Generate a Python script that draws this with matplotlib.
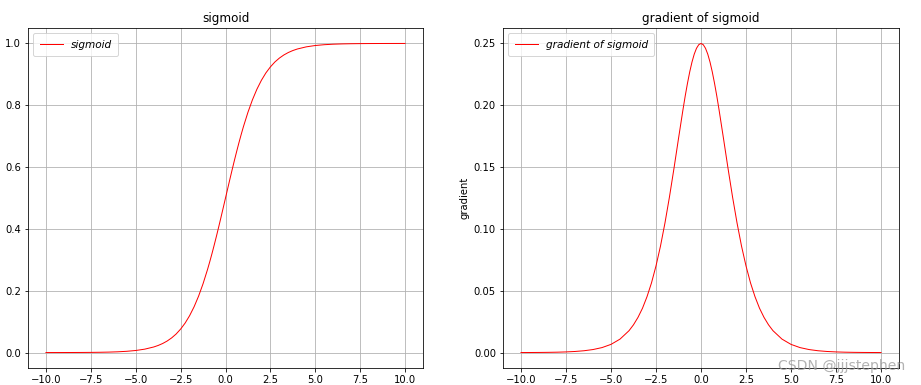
import matplotlib
matplotlib.use("Agg")
import matplotlib.pyplot as plt

# x positions
x_vals = [-10.0, -9.5, -9.0, -8.5, -8.0, -7.5, -7.0, -6.5, -6.0, -5.5, -5.0, -4.5,
          -4.0, -3.75, -3.5, -3.25, -3.0, -2.75, -2.5, -2.25, -2.0, -1.75, -1.5, -1.25,
          -1.0, -0.875, -0.75, -0.625, -0.5, -0.375, -0.25, -0.125, 0.0,
          0.125, 0.25, 0.375, 0.5, 0.625, 0.75, 0.875, 1.0, 1.25, 1.5, 1.75,
          2.0, 2.25, 2.5, 2.75, 3.0, 3.25, 3.5, 3.75, 4.0, 4.5, 5.0, 5.5,
          6.0, 6.5, 7.0, 7.5, 8.0, 8.5, 9.0, 9.5, 10.0]

sigmoid_vals = [0.0000454, 0.0000749, 0.000123, 0.000203, 0.000335, 0.000553, 0.000911,
                0.0015, 0.00247, 0.00407, 0.00669, 0.0110,
                0.0180, 0.0230, 0.0293, 0.0373, 0.0474, 0.0600, 0.0759, 0.0953, 0.1192,
                0.1480, 0.1824, 0.2227,
                0.2689, 0.2942, 0.3208, 0.3487, 0.3775, 0.4073, 0.4378, 0.4688, 0.5,
                0.5312, 0.5622, 0.5927, 0.6225, 0.6513, 0.6792, 0.7058, 0.7311,
                0.7773, 0.8176, 0.8520, 0.8808, 0.9047,
                0.9241, 0.9400, 0.9526, 0.9627, 0.9707, 0.9770, 0.9820, 0.9890, 0.99331,
                0.99593, 0.99753, 0.9985, 0.999089, 0.999447, 0.999665, 0.999797,
                0.999877, 0.999925, 0.999955]

gradient_vals = [0.0000454, 0.0000749, 0.000123, 0.000203, 0.000335, 0.000553, 0.000910,
                 0.00150, 0.00247, 0.00405, 0.00665, 0.0109,
                 0.0177, 0.0225, 0.0285, 0.0359, 0.0452, 0.0564, 0.0701, 0.0862, 0.1050,
                 0.1261, 0.1491, 0.1731,
                 0.1966, 0.2077, 0.2179, 0.2271, 0.2350, 0.2414, 0.2461, 0.2490, 0.25,
                 0.2490, 0.2461, 0.2414, 0.2350, 0.2271, 0.2179, 0.2077, 0.1966,
                 0.1731, 0.1491, 0.1261, 0.1050, 0.0862,
                 0.0701, 0.0564, 0.0452, 0.0359, 0.0285, 0.0225, 0.0177, 0.0109, 0.00665,
                 0.00405, 0.00247, 0.00150, 0.000910, 0.000553, 0.000335, 0.000203,
                 0.000123, 0.0000749, 0.0000454]

x_ticks = [-10.0, -7.5, -5.0, -2.5, 0.0, 2.5, 5.0, 7.5, 10.0]

plt.rcParams['font.family'] = ['DejaVu Sans']
plt.rcParams['font.size'] = 10

fig = plt.figure(figsize=(921 / 72, 385 / 72), dpi=72)
ax1 = fig.add_axes([28 / 921, 1 - 368 / 385, (423 - 28) / 921, (368 - 28) / 385])
ax2 = fig.add_axes([503 / 921, 1 - 368 / 385, (899 - 503) / 921, (368 - 28) / 385])

legend_kw = dict(loc='upper left', prop={'style': 'italic', 'size': 10.5},
                 borderpad=0.6, handlelength=2.2)

ax1.plot(x_vals, sigmoid_vals, color='red', linewidth=1, label='sigmoid')
ax1.set_title('sigmoid', fontsize=12)
ax1.set_xticks(x_ticks)
ax1.grid(True)
ax1.legend(**legend_kw)

ax2.plot(x_vals, gradient_vals, color='red', linewidth=1, label='gradient of sigmoid')
ax2.set_title('gradient of sigmoid', fontsize=12)
ax2.set_ylabel('gradient', fontsize=10)
ax2.set_xticks(x_ticks)
ax2.grid(True)
ax2.legend(**legend_kw)

fig.text(842 / 921, 1 - 366 / 385, 'CSDN @jjjstephen', fontsize=14, color='#999999',
         alpha=0.75, ha='center', va='center')

fig.savefig('out.png', dpi=72)
